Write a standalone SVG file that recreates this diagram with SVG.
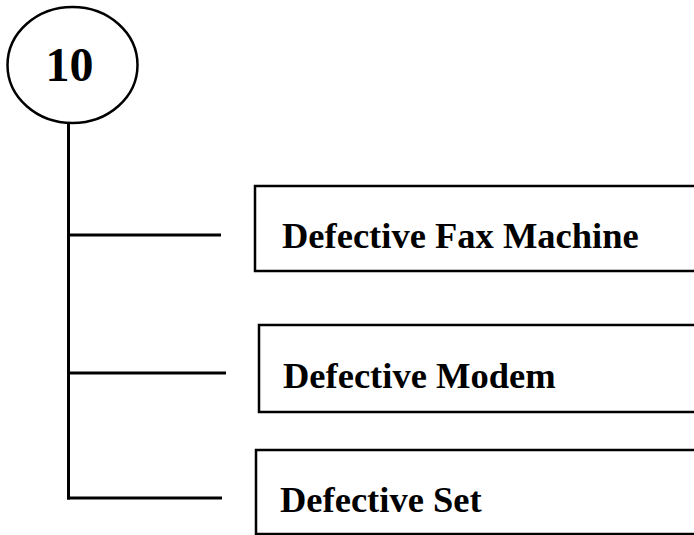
<svg xmlns="http://www.w3.org/2000/svg" width="694" height="535" viewBox="0 0 694 535">
  <style>
    .shape { fill: #ffffff; stroke: #000000; stroke-width: 2.5; }
    .wire { stroke: #000000; stroke-width: 3; fill: none; stroke-linecap: butt; }
    .label { font-family: "Liberation Serif", "Times New Roman", serif; font-weight: bold; fill: #000000; }
  </style>
  <rect x="0" y="0" width="694" height="535" fill="#ffffff"/>

  <!-- tree connectors -->
  <g id="connectors">
    <line class="wire" x1="68.5" y1="123" x2="68.5" y2="499.5"/>
    <line class="wire" x1="67" y1="235" x2="221" y2="235"/>
    <line class="wire" x1="67" y1="373" x2="226" y2="373"/>
    <line class="wire" x1="67" y1="498" x2="222" y2="498" stroke-width="3.5"/>
  </g>

  <!-- root node -->
  <g id="node-root">
    <ellipse class="shape" cx="72.5" cy="65" rx="65" ry="58"/>
    <text class="label" x="69.5" y="81" font-size="48" text-anchor="middle">10</text>
  </g>

  <g id="node-fax">
    <rect class="shape" x="255" y="186" width="460" height="85"/>
    <text class="label" x="282" y="248" font-size="36.5">Defective Fax Machine</text>
  </g>

  <g id="node-modem">
    <rect class="shape" x="259" y="325" width="460" height="87"/>
    <text class="label" x="283" y="388" font-size="36.5">Defective Modem</text>
  </g>

  <g id="node-set">
    <rect class="shape" x="256" y="450" width="460" height="84"/>
    <text class="label" x="280" y="512" font-size="36.5">Defective Set</text>
  </g>
</svg>
